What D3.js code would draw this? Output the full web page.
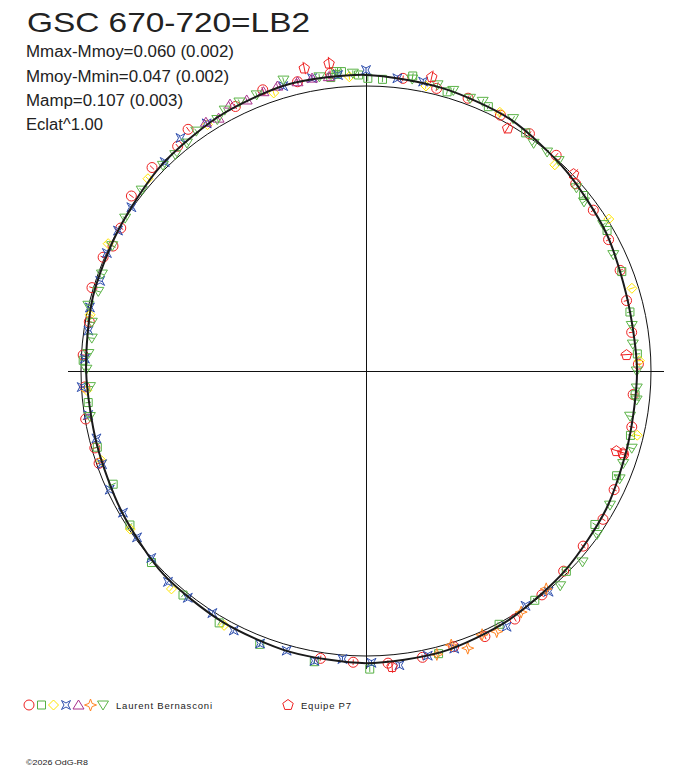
<!DOCTYPE html>
<html>
<head>
<meta charset="utf-8">
<script src="https://cdn.jsdelivr.net/npm/d3@7"></script>
<style>
  body { margin: 0; background: #fff; }
  svg { display: block; }
  text { font-family: "Liberation Sans", Arial, sans-serif; fill: #222; }
</style>
</head>
<body>
<svg id="chart" width="688" height="768"></svg>
<script>
// Polar light curve of GSC 670-720 : angle = phase (0 at top, clockwise), radius = relative flux

// Fitted mean curve
const curvePhase = [0, 0.042, 0.083, 0.125, 0.167, 0.208, 0.25, 0.292, 0.333, 0.375, 0.417, 0.458,
                    0.5, 0.542, 0.583, 0.625, 0.667, 0.708, 0.75, 0.792, 0.833, 0.875, 0.917, 0.958];
const curveFlux  = [1.039, 1.028, 1.018, 0.993, 0.972, 0.951, 0.951, 0.954, 0.972, 0.989, 1.007, 1.021,
                    1.025, 1.021, 1.014, 1.007, 0.989, 0.979, 0.982, 0.993, 1.000, 1.018, 1.032, 1.042];

// Observations [phase, flux]
const circlePts = [[.944,1.051],[.963,1.043],[.981,1.052],[.927,1.035],[.899,1.053],[.889,1.029],[.871,1.036],
  [.852,1.027],[.834,0.996],[.823,0.990],[.815,1.005],[.797,1.005],[.778,0.986],[.759,0.994],[.741,0.988],
  [.723,0.998],[.706,0.989],[.697,0.991],[.525,1.021],[.507,1.023],[.488,1.028],[.469,1.024],[.451,1.015],
  [.433,1.021],[.414,1.015],[.394,0.999],[.376,0.987],[.358,0.979],[.339,0.981],[.321,0.965],[.300,0.950],
  [.283,0.953],[.264,0.941],[.246,0.956],[.227,0.942],[.208,0.947],[.190,0.959],[.171,0.968],[.152,0.977],
  [.134,0.986],[.115,1.009],[.096,1.011],[.077,1.014],[.057,1.022],[.039,1.022],[.020,1.035]];
const squarePts = [[.981,1.037],[.987,1.054],[.984,1.046],[.996,1.039],[.001,1.027],[.009,1.025],[.025,1.048],
  [.045,1.020],[.069,1.022],[.094,1.006],[.142,0.981],[.166,0.979],[.191,0.963],[.215,0.949],[.240,0.954],
  [.264,0.948],[.288,0.955],[.313,0.953],[.344,0.967],[.375,0.994],[.399,0.999],[.423,1.004],[.460,1.024],
  [.498,1.046],[.528,1.036],[.559,1.029],[.584,1.023],[.609,1.015],[.634,1.009],[.658,0.989],[.683,0.972],
  [.706,0.980],[.732,0.981],[.756,0.993]];
const diamondPts = [[.991,1.034],[.033,1.022],[.076,1.022],[.118,0.981],[.161,1.005],[.202,0.977],[.244,0.960],
  [.287,0.978],[.581,1.022],[.616,1.025],[.656,0.996],[.698,0.980],[.739,0.982],[.782,0.988],[.823,1.009],
  [.865,1.020],[.909,1.028],[.949,1.028]];
const crossPts = [[.000,1.056],[.017,1.033],[.031,1.035],[.985,1.043],[.971,1.045],[.955,1.041],[.909,1.033],
  [.893,1.045],[.878,1.018],[.847,1.004],[.832,1.000],[.818,0.999],[.802,0.985],[.786,0.994],[.773,0.984],
  [.757,0.987],[.741,0.999],[.725,0.987],[.711,0.975],[.696,0.982],[.681,0.991],[.666,0.987],[.650,0.993],
  [.636,0.999],[.620,1.015],[.606,1.012],[.590,1.006],[.575,1.022],[.559,1.026],[.544,1.020],[.528,1.033],
  [.513,1.014],[.497,1.024],[.482,1.039],[.466,1.022],[.451,1.022],[.420,1.024],[.405,0.996],[.390,1.005]];
const trianglePts = [[.980,1.041],[.971,1.045],[.963,1.043],[.952,1.047],[.944,1.044],[.934,1.039],[.925,1.051],
  [.916,1.027],[.909,1.038]];
const starPts = [[.390,0.992],[.409,1.006],[.426,1.023],[.434,1.011],[.444,1.036],[.452,1.007],[.461,1.025]];
const triDownPts = [[.975,1.045],[.993,1.046],[.984,1.056],[.956,1.061],[.940,1.042],[.930,1.043],[.921,1.041],
  [.915,1.025],[.902,1.031],[.894,1.017],[.885,1.012],[.876,1.014],[.858,1.011],[.840,1.001],[.823,0.993],
  [.806,0.987],[.796,0.980],[.787,1.001],[.778,0.977],[.769,0.969],[.760,0.976],[.751,0.981],[.741,0.970],
  [.724,0.982],[.025,1.037],[.039,1.035],[.048,1.031],[.058,1.024],[.065,1.031],[.084,1.025],[.101,0.992],
  [.110,0.997],[.118,1.001],[.136,0.979],[.145,0.968],[.162,0.978],[.180,0.959],[.223,0.946],[.234,0.941],
  [.250,0.950],[.260,0.952],[.267,0.955],[.277,0.940],[.295,0.971],[.305,0.959],[.314,0.967],[.330,0.977],
  [.348,0.993],[.365,1.013],[.383,1.016]];
const pentagonPts = [[.968,1.085],[.981,1.088],[.035,1.058],[.084,0.987],[.129,1.005],[.240,0.916],[.299,0.922],
  [.299,0.946],[.486,1.041]];

const seriesSymbols = ['circle', 'square', 'diamond', 'cross', 'triangle', 'star', 'triDown', 'pentagon'];
const seriesColors  = ['#ee2222', '#55b043', '#ffe600', '#2f4fae', '#a8308c', '#ff8422', '#5cb448', '#ee2222'];
const seriesErrors  = [0.010, 0.010, 0.010, 0.010, 0.010, 0.010, 0.010, 0.022];
const seriesData    = [circlePts, squarePts, diamondPts, crossPts, trianglePts, starPts, triDownPts, pentagonPts];

const titleText = 'GSC 670-720=LB2';
const statLines = ['Mmax-Mmoy=0.060 (0.002)', 'Mmoy-Mmin=0.047 (0.002)', 'Mamp=0.107 (0.003)', 'Eclat^1.00'];
const observerNames = ['Laurent Bernasconi', 'Equipe P7'];
const creditText = '\u00a92026 OdG-R8';

const svg = d3.select('#chart');
const cx = 366, cy = 371;
const rScale = d3.scaleLinear().domain([0, 1]).range([0, 285]);
const angle = p => p * 2 * Math.PI;

// Symbol outlines, centred on 0,0
function symbolPath(type) {
    switch (type) {
        case 'circle':   return 'M5,0A5,5 0 1,1 -5,0A5,5 0 1,1 5,0Z';
        case 'square':   return 'M-4,-4H4V4H-4Z';
        case 'diamond':  return 'M0,-5L5,0L0,5L-5,0Z';
        case 'cross':    return 'M-4.5,-4.5L0,-2L4.5,-4.5L2,0L4.5,4.5L0,2L-4.5,4.5L-2,0Z';
        case 'triangle': return 'M0,-5L5.5,4L-5.5,4Z';
        case 'star':     return 'M0,-6L1.6,-1.6L6,0L1.6,1.6L0,6L-1.6,1.6L-6,0L-1.6,-1.6Z';
        case 'triDown':  return 'M-5.5,-4L5.5,-4L0,5Z';
        case 'pentagon': {
            const pts = d3.range(5).map(i => {
                const a = -Math.PI / 2 + i * 2 * Math.PI / 5;
                return [5.5 * Math.cos(a), 5.5 * Math.sin(a) + 0.5];
            });
            return 'M' + pts.join('L') + 'Z';
        }
    }
}

const plot = svg.append('g').attr('transform', `translate(${cx},${cy})`);

// Axes through the centre
const axisR = rScale(1.045);
plot.append('line').attr('x1', -axisR).attr('x2', axisR).attr('y1', 0).attr('y2', 0)
    .attr('stroke', '#111').attr('stroke-width', 1).attr('shape-rendering', 'crispEdges');
plot.append('line').attr('y1', -axisR).attr('y2', axisR).attr('x1', 0).attr('x2', 0)
    .attr('stroke', '#111').attr('stroke-width', 1).attr('shape-rendering', 'crispEdges');

// Reference circle (mean flux)
plot.append('circle').attr('r', rScale(1)).attr('fill', 'none')
    .attr('stroke', '#111').attr('stroke-width', 1);

// Observations with radial error bars
seriesData.forEach((pts, si) => {
    const g = plot.append('g').attr('class', 'series-' + seriesSymbols[si]);
    const col = seriesColors[si];
    const err = seriesErrors[si];
    g.selectAll('line')
        .data(pts)
        .enter()
        .append('line')
        .each(function(d) {
            const a = d3.pointRadial(angle(d[0]), rScale(d[1] - err));
            const b = d3.pointRadial(angle(d[0]), rScale(d[1] + err));
            d3.select(this).attr('x1', a[0]).attr('y1', a[1]).attr('x2', b[0]).attr('y2', b[1]);
        })
        .attr('stroke', col)
        .attr('stroke-width', 1);
    g.selectAll('path')
        .data(pts)
        .enter()
        .append('path')
        .attr('d', symbolPath(seriesSymbols[si]))
        .attr('transform', d => {
            const p = d3.pointRadial(angle(d[0]), rScale(d[1]));
            return `translate(${p[0]},${p[1]})`;
        })
        .attr('fill', 'none')
        .attr('stroke', col)
        .attr('stroke-width', 1);
});

// Fitted curve
const curveData = curvePhase.map((p, i) => [p, curveFlux[i]]);
plot.append('path')
    .datum(curveData)
    .attr('d', d3.lineRadial()
        .angle(d => angle(d[0]))
        .radius(d => rScale(d[1]))
        .curve(d3.curveCardinalClosed.tension(0.2)))
    .attr('fill', 'none')
    .attr('stroke', '#1a1a1a')
    .attr('stroke-width', 2);

// Title and statistics
svg.append('text')
    .attr('x', 27).attr('y', 32)
    .attr('font-size', 28)
    .attr('textLength', 283).attr('lengthAdjust', 'spacingAndGlyphs')
    .text(titleText);

const statWidths = [208, 203, 157, 77];
const statY = [56.5, 81.5, 106, 130];
svg.selectAll('.stat')
    .data(statLines)
    .enter()
    .append('text')
    .attr('class', 'stat')
    .attr('x', 26)
    .attr('y', (d, i) => statY[i])
    .attr('font-size', 16)
    .attr('textLength', (d, i) => statWidths[i])
    .attr('lengthAdjust', 'spacingAndGlyphs')
    .text(d => d);

// Legend
const legend = svg.append('g').attr('class', 'legend');
const legendX = [29, 41.5, 53.5, 66, 78.5, 90.5, 103];
legendX.forEach((x, i) => {
    legend.append('path')
        .attr('d', symbolPath(seriesSymbols[i]))
        .attr('transform', `translate(${x},705)`)
        .attr('fill', 'none')
        .attr('stroke', seriesColors[i])
        .attr('stroke-width', 1);
});
legend.append('text')
    .attr('x', 116).attr('y', 708.5)
    .attr('font-size', 9.5)
    .attr('textLength', 96).attr('lengthAdjust', 'spacing')
    .text(observerNames[0]);
legend.append('path')
    .attr('d', symbolPath('pentagon'))
    .attr('transform', 'translate(288,704.5)')
    .attr('fill', 'none')
    .attr('stroke', seriesColors[7])
    .attr('stroke-width', 1);
legend.append('text')
    .attr('x', 301).attr('y', 708.5)
    .attr('font-size', 9.5)
    .attr('textLength', 50).attr('lengthAdjust', 'spacing')
    .text(observerNames[1]);

svg.append('text')
    .attr('x', 26).attr('y', 765)
    .attr('font-size', 8)
    .attr('textLength', 62).attr('lengthAdjust', 'spacingAndGlyphs')
    .text(creditText);
</script>
</body>
</html>
